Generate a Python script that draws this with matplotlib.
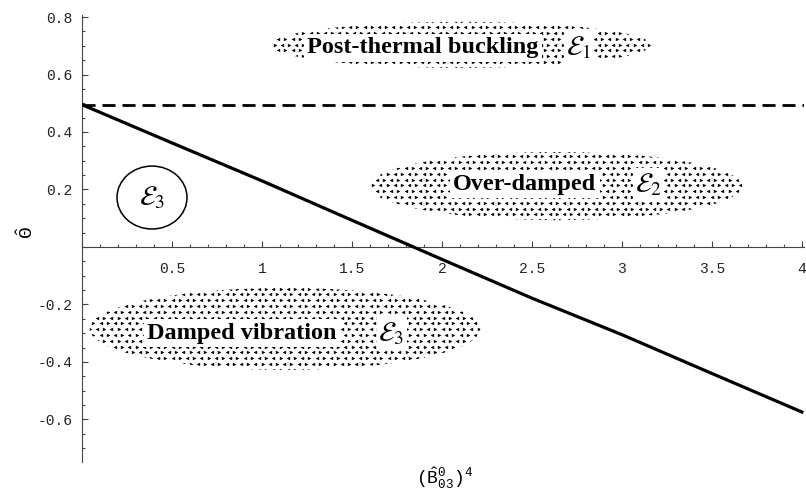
import numpy as np
import matplotlib
matplotlib.use("Agg")
import matplotlib.pyplot as plt
from matplotlib.patches import Ellipse
from matplotlib.ticker import MultipleLocator, FuncFormatter

# ---- data ----
boundary_x = [0.0, 0.5, 1.0, 1.5, 2.0, 2.5, 3.0, 3.5, 4.0]
boundary_y = [0.495, 0.362, 0.230, 0.093, -0.043, -0.178, -0.305, -0.440, -0.574]
dashed_level = 0.495

region_names = ["Post-thermal buckling", "Over-damped", "Damped vibration"]
region_syms = [r"$\mathcal{E}_{1}$", r"$\mathcal{E}_{2}$", r"$\mathcal{E}_{3}$"]
# ellipse centre (x, y), width, height (data units)
region_ell = [(2.105, 0.703, 2.11, 0.160),
              (2.633, 0.212, 2.07, 0.237),
              (1.128, -0.285, 2.17, 0.285)]
region_text_x = [1.895, 2.461, 0.889]
region_sym_x = [2.76, 3.15, 1.72]
region_text_y = [0.693, 0.218, -0.300]
circle = (0.389, 0.172, 0.389, 0.219)

xlim = (0.0, 4.012)
ylim = (-0.748, 0.807)

plt.rcParams['mathtext.fontset'] = 'custom'
plt.rcParams['mathtext.rm'] = 'Liberation Mono'
plt.rcParams['mathtext.it'] = 'Liberation Mono'
plt.rcParams['mathtext.bf'] = 'Liberation Mono:bold'

W, H = 806, 496
fig = plt.figure(figsize=(W / 100, H / 100), dpi=100)
ax_l, ax_r, ax_t, ax_b = 82, 804, 15, 462
ax = fig.add_axes([ax_l / W, 1 - ax_b / H, (ax_r - ax_l) / W, (ax_b - ax_t) / H])
ax.set_xlim(*xlim)
ax.set_ylim(*ylim)

for s in ['top', 'right']:
    ax.spines[s].set_visible(False)
ax.spines['bottom'].set_position(('data', 0))
ax.spines['left'].set_position(('data', 0))
for s in ['bottom', 'left']:
    ax.spines[s].set_linewidth(0.8)
    ax.spines[s].set_color('#444444')

ax.xaxis.set_major_locator(MultipleLocator(0.5))
ax.xaxis.set_minor_locator(MultipleLocator(0.1))
ax.yaxis.set_major_locator(MultipleLocator(0.2))
ax.yaxis.set_minor_locator(MultipleLocator(0.05))
fmt = FuncFormatter(lambda v, p: '' if abs(v) < 1e-9 else f'{v:g}')
ax.xaxis.set_major_formatter(fmt)
ax.yaxis.set_major_formatter(fmt)
ax.tick_params(which='both', direction='in', color='#444444', width=0.8)
ax.tick_params(which='major', length=4.0)
ax.tick_params(which='minor', length=2.2)
ax.tick_params(axis='x', which='major', pad=11)
ax.tick_params(axis='y', which='major', pad=7)
for lab in ax.get_xticklabels() + ax.get_yticklabels():
    lab.set_fontfamily('Liberation Mono')
    lab.set_fontsize(10.5)
    lab.set_color('#222222')

# px per data unit
sx = (ax_r - ax_l) / (xlim[1] - xlim[0])
sy = (ax_b - ax_t) / (ylim[1] - ylim[0])

# stippled ellipses
for (cx, cy, w, h) in region_ell:
    ell = Ellipse((cx, cy), w, h, fill=False, lw=0, edgecolor='none')
    ax.add_patch(ell)
    dxp, dyp = 7.2, 5.8
    nx = int(w * sx / dxp) + 4
    ny = int(h * sy / dyp) + 4
    for j in range(ny):
        yy = cy - h / 2 + (j - 1) * dyp / sy
        off = (j % 2) * dxp / 2
        xs_l, xs_r = [], []
        for i in range(nx):
            xx = cx - w / 2 + ((i - 1) * dxp + off) / sx
            (xs_l if i % 2 == 0 else xs_r).append(xx)
        for xs_, mk in ((xs_l, '<'), (xs_r, '>')):
            ln, = ax.plot(xs_, [yy] * len(xs_), ls='none', marker=mk, ms=2.1,
                          mew=0.3, color='black', zorder=2)
            ln.set_clip_path(ell)

for name, sym, tx, sxp, ty in zip(region_names, region_syms, region_text_x,
                                  region_sym_x, region_text_y):
    ax.text(tx, ty, name, fontfamily='Liberation Serif', fontweight='bold',
            fontsize=17.5, ha='center', va='center', zorder=4,
            bbox=dict(facecolor='white', edgecolor='none', pad=2.5))
    ax.text(sxp, ty, sym, math_fontfamily='stix', fontsize=20, ha='center',
            va='center', zorder=4,
            bbox=dict(facecolor='white', edgecolor='none', pad=1.5))

cx, cy, cw, ch = circle
ax.add_patch(Ellipse((cx, cy), cw, ch, fill=False, lw=1.1, edgecolor='black', zorder=3))
ax.text(cx, cy, region_syms[2], math_fontfamily='stix', fontsize=20,
        ha='center', va='center', zorder=4)

ax.plot(xlim, [dashed_level, dashed_level], color='black', lw=2.0,
        ls=(0, (4.7, 2.5)), zorder=5, solid_capstyle='butt', dash_capstyle='butt')
ax.plot(boundary_x, boundary_y, color='black', lw=2.3, zorder=5)

fig.text(27 / W, 1 - 233 / H, r'$\hat{\Theta}$', rotation=90, fontsize=14,
         ha='center', va='center')
fig.text(445 / W, 1 - 478 / H, r'$(\hat{\mathrm{B}}^{0}_{03})^{4}$', fontsize=13,
         ha='center', va='center')

fig.savefig('out.png', dpi=100)
